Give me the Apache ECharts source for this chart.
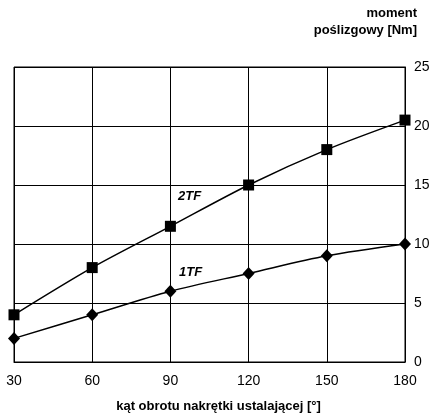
<!DOCTYPE html>
<html><head><meta charset="utf-8">
<script src="https://cdn.jsdelivr.net/npm/echarts@6/dist/echarts.min.js"></script>
<style>html,body{margin:0;padding:0;background:#fff}#c{width:436px;height:415px}</style>
</head><body><div id="c"></div>
<script>
const categories = [30, 60, 90, 120, 150, 180];
const series2TF = [4, 8, 11.5, 15, 18, 20.5];
const series1TF = [2, 4, 6, 7.5, 9, 10];
const yTicks = [0, 5, 10, 15, 20, 25];

const chart = echarts.init(document.getElementById('c'), null, {renderer: 'canvas'});
const font = 'Arial, "Liberation Sans", sans-serif';
chart.setOption({
  animation: false,
  backgroundColor: '#fff',
  grid: {left: 14, right: 31, top: 67, bottom: 53, show: true, borderColor: '#000', borderWidth: 1,
         containLabel: false, outerBoundsMode: 'none'},
  xAxis: {
    type: 'value', min: 30, max: 180, interval: 30,
    axisLine: {show: true, lineStyle: {color: '#000', width: 1}},
    axisTick: {show: false},
    axisLabel: {color: '#000', fontFamily: font, fontSize: 14, margin: 12},
    splitLine: {show: true, lineStyle: {color: '#000', width: 1}},
    name: 'kąt obrotu nakrętki ustalającej [°]',
    nameLocation: 'middle', nameGap: 38,
    nameTextStyle: {color: '#000', fontFamily: font, fontSize: 13, fontWeight: 'bold',
      padding: [0, 0, 0, 18]}
  },
  yAxis: {
    type: 'value', min: 0, max: 25, interval: 5, position: 'right',
    axisLine: {show: true, lineStyle: {color: '#000', width: 1}},
    axisTick: {show: false},
    axisLabel: {color: '#000', fontFamily: font, fontSize: 14, margin: 9,
      formatter: v => yTicks.includes(v) ? String(v) : ''},
    splitLine: {show: true, lineStyle: {color: '#000', width: 1}},
    name: 'moment\npoślizgowy [Nm]',
    nameLocation: 'end', nameGap: 28,
    nameTextStyle: {color: '#000', fontFamily: font, fontSize: 13, fontWeight: 'bold',
      align: 'right', lineHeight: 17, padding: [0, -12, 0, 0]}
  },
  series: [
    {type: 'line', name: '2TF', smooth: 0.3, data: categories.map((c, i) => [c, series2TF[i]]),
     symbol: 'rect', symbolSize: 11, itemStyle: {color: '#000'},
     lineStyle: {color: '#000', width: 1.5}},
    {type: 'line', name: '1TF', smooth: 0.3, data: categories.map((c, i) => [c, series1TF[i]]),
     symbol: 'diamond', symbolSize: [12, 13], itemStyle: {color: '#000'},
     lineStyle: {color: '#000', width: 1.5}}
  ],
  graphic: [
    {type: 'text', left: 178, top: 190, style: {text: '2TF', fill: '#000', font: 'italic bold 13px ' + font}},
    {type: 'text', left: 179, top: 266, style: {text: '1TF', fill: '#000', font: 'italic bold 13px ' + font}}
  ]
});
</script></body></html>
